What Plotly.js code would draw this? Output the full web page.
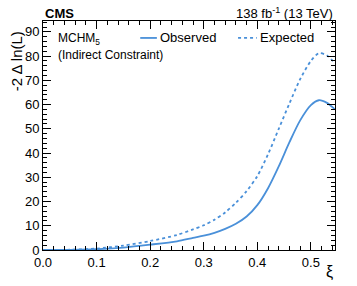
<!DOCTYPE html>
<html>
<head>
<meta charset="utf-8">
<script src="https://cdn.plot.ly/plotly-3.0.1.min.js"></script>
<style>html,body{margin:0;padding:0;background:#fff;}#chart{width:357px;height:286px;}</style>
</head>
<body>
<div id="chart"></div>
<script>
const xi       = [0, 0.05, 0.10, 0.15, 0.20, 0.25, 0.28, 0.30, 0.32, 0.34, 0.36, 0.38, 0.40, 0.42, 0.44, 0.46, 0.48, 0.50, 0.515, 0.53, 0.545];
const observed = [0, 0.05, 0.3, 1.0, 2.2, 3.6, 5.0, 5.9, 7.1, 8.7, 10.8, 13.8, 18.5, 25.5, 34.5, 44.5, 53.5, 59.8, 61.8, 60.7, 58];
const expected = [0, 0.1, 0.6, 1.8, 3.7, 6.2, 8.5, 10.2, 12.5, 15.5, 19.5, 24.3, 30.5, 39.5, 50, 60.5, 70.5, 78, 81.2, 80.3, 77];
const xTickVals = [0, 0.1, 0.2, 0.3, 0.4, 0.5];
const xTickText = ["0.0", "0.1", "0.2", "0.3", "0.4", "0.5"];
const yTickVals = [0, 10, 20, 30, 40, 50, 60, 70, 80, 90];
const seriesNames = ["Observed", "Expected"];

const col = '#4a90d9';
const font = 'Liberation Sans, Arial, sans-serif';

const traces = [
  {x: xi, y: observed, mode: 'lines', name: seriesNames[0], showlegend: false,
   line: {color: col, width: 1.8, shape: 'spline', smoothing: 0.8}},
  {x: xi, y: expected, mode: 'lines', name: seriesNames[1], showlegend: false,
   line: {color: col, width: 1.8, dash: 'dot', shape: 'spline', smoothing: 0.8}}
];

const axisCommon = {
  showgrid: false, zeroline: false, showline: true, linecolor: '#000', linewidth: 1,
  mirror: 'allticks', ticks: 'inside', ticklen: 8, tickcolor: '#000', tickwidth: 1,
  tickfont: {family: font, size: 13, color: '#000'}
};

const legY = 0.926;
const layout = {
  width: 357, height: 286,
  margin: {l: 43, r: 22, t: 21, b: 36},
  paper_bgcolor: '#fff', plot_bgcolor: '#fff',
  showlegend: false,
  xaxis: Object.assign({}, axisCommon, {
    range: [0, 0.545], tickvals: xTickVals, ticktext: xTickText,
    minor: {dtick: 0.02, tick0: 0, ticks: 'inside', ticklen: 4, tickcolor: '#000', showgrid: false}
  }),
  yaxis: Object.assign({}, axisCommon, {
    range: [0, 94.5], tickvals: yTickVals,
    minor: {dtick: 2, tick0: 0, ticks: 'inside', ticklen: 4, tickcolor: '#000', showgrid: false}
  }),
  shapes: [
    {type: 'line', xref: 'paper', yref: 'paper', x0: 0.333, x1: 0.390, y0: legY, y1: legY,
     line: {color: col, width: 1.8}},
    {type: 'line', xref: 'paper', yref: 'paper', x0: 0.668, x1: 0.732, y0: legY, y1: legY,
     line: {color: col, width: 1.8, dash: 'dot'}}
  ],
  annotations: [
    {text: seriesNames[0], xref: 'paper', yref: 'paper', x: 0.394, y: legY, xanchor: 'left', yanchor: 'middle',
     showarrow: false, font: {family: font, size: 13, color: '#000'}},
    {text: seriesNames[1], xref: 'paper', yref: 'paper', x: 0.736, y: legY, xanchor: 'left', yanchor: 'middle',
     showarrow: false, font: {family: font, size: 13, color: '#000'}},
    {text: '<b>CMS</b>', xref: 'paper', yref: 'paper', x: 0, y: 1, xanchor: 'left', yanchor: 'bottom',
     showarrow: false, font: {family: font, size: 13, color: '#000'}, yshift: -2},
    {text: '138 fb<sup>-1</sup> (13 TeV)', xref: 'paper', yref: 'paper', x: 1, y: 1, xanchor: 'right', yanchor: 'bottom',
     showarrow: false, font: {family: font, size: 13, color: '#000'}, yshift: -2},
    {text: 'MCHM<sub>5</sub>', xref: 'paper', yref: 'paper', x: 0.044, y: 0.93, xanchor: 'left', yanchor: 'middle',
     showarrow: false, font: {family: font, size: 12, color: '#000'}, yshift: -2},
    {text: '(Indirect Constraint)', xref: 'paper', yref: 'paper', x: 0.044, y: 0.852, xanchor: 'left', yanchor: 'middle',
     showarrow: false, font: {family: font, size: 12, color: '#000'}},
    {text: '-2 Δ ln(L)', xref: 'paper', yref: 'paper', x: -0.092, y: 0.825, xanchor: 'center', yanchor: 'middle',
     textangle: -90, showarrow: false, font: {family: font, size: 15, color: '#000'}},
    {text: 'ξ', xref: 'paper', yref: 'paper', x: 1, y: -0.096, xanchor: 'right', yanchor: 'middle',
     showarrow: false, font: {family: font, size: 16, color: '#000'}}
  ]
};

Plotly.newPlot('chart', traces, layout, {displayModeBar: false, staticPlot: true});
</script>
</body>
</html>
